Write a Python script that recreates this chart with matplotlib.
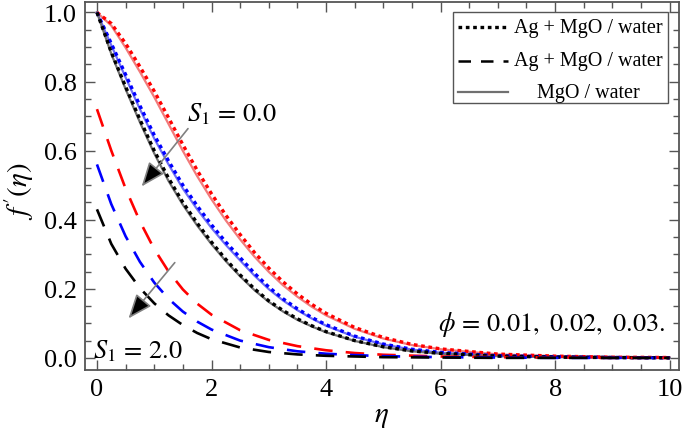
import matplotlib
matplotlib.use("Agg")
import matplotlib.pyplot as plt
from matplotlib.lines import Line2D
from matplotlib.patches import Rectangle

plt.rcParams["font.family"] = ["Liberation Serif", "DejaVu Serif"]
plt.rcParams["mathtext.fontset"] = "stix"

# S1 = 0.0 curves (Ag + MgO / water dotted, MgO / water solid)
eta = [0, 0.25, 0.5, 0.75, 1.0, 1.25, 1.5, 1.75, 2.0, 2.25, 2.5, 2.75, 3.0,
       3.25, 3.5, 3.75, 4.0, 4.5, 5.0, 5.5, 6.0, 7.0, 8.0, 9.0, 10.0]
hyb_red = [1.0, 0.968, 0.91, 0.843, 0.772, 0.695, 0.617, 0.543, 0.475, 0.413,
           0.357, 0.305, 0.26, 0.22, 0.185, 0.155, 0.129, 0.088, 0.059, 0.039,
           0.026, 0.011, 0.005, 0.002, 0.001]
hyb_blue = [1.0, 0.91, 0.82, 0.73, 0.645, 0.57, 0.50, 0.44, 0.385, 0.335,
            0.29, 0.245, 0.205, 0.171, 0.142, 0.117, 0.096, 0.063, 0.04,
            0.025, 0.016, 0.006, 0.003, 0.001, 0.0]
hyb_black = [1.0, 0.885, 0.785, 0.69, 0.60, 0.52, 0.45, 0.39, 0.335, 0.285,
             0.24, 0.20, 0.165, 0.137, 0.113, 0.093, 0.076, 0.05, 0.032, 0.02,
             0.013, 0.005, 0.002, 0.001, 0.0]
mono_red = [1.0, 0.962, 0.898, 0.828, 0.755, 0.677, 0.599, 0.526, 0.459,
            0.398, 0.343, 0.293, 0.249, 0.21, 0.177, 0.148, 0.123, 0.084,
            0.056, 0.037, 0.025, 0.010, 0.005, 0.002, 0.001]
mono_blue = [1.0, 0.905, 0.812, 0.72, 0.635, 0.56, 0.49, 0.43, 0.376, 0.327,
             0.282, 0.238, 0.199, 0.166, 0.138, 0.114, 0.093, 0.061, 0.039,
             0.024, 0.015, 0.006, 0.003, 0.001, 0.0]
mono_black = [1.0, 0.88, 0.778, 0.682, 0.592, 0.512, 0.443, 0.383, 0.329,
              0.28, 0.236, 0.196, 0.162, 0.134, 0.11, 0.091, 0.074, 0.049,
              0.031, 0.019, 0.012, 0.005, 0.002, 0.001, 0.0]

# S1 = 2.0 curves (dashed)
eta_s2 = [0, 0.25, 0.5, 0.75, 1.0, 1.25, 1.5, 1.75, 2.0, 2.5, 3.0, 3.5, 4.0,
          4.5, 5.0, 6.0, 7.0, 8.0, 9.0, 10.0]
s2_red = [0.72, 0.60, 0.49, 0.395, 0.315, 0.25, 0.198, 0.157, 0.125, 0.08,
          0.052, 0.034, 0.022, 0.014, 0.009, 0.004, 0.002, 0.001, 0.0, 0.0]
s2_blue = [0.56, 0.445, 0.352, 0.278, 0.218, 0.171, 0.134, 0.105, 0.082, 0.05,
           0.031, 0.019, 0.012, 0.008, 0.005, 0.002, 0.001, 0.0, 0.0, 0.0]
s2_black = [0.43, 0.33, 0.258, 0.202, 0.158, 0.123, 0.095, 0.072, 0.054, 0.03,
            0.017, 0.01, 0.006, 0.004, 0.002, 0.001, 0.0, 0.0, 0.0, 0.0]

legend_labels = ["Ag + MgO / water", "Ag + MgO / water", "MgO / water"]

fig = plt.figure(figsize=(6.85, 4.39), dpi=100)
ax = fig.add_axes([0.124, 0.155, 0.867, 0.838])

dot = (1.1, 1.1)
dash = (7, 5)
# solid MgO/water curves under the dotted ones
ax.plot(eta, mono_red, color="#f27a7a", lw=1.6)
ax.plot(eta, mono_blue, color="#6f6ff5", lw=1.6)
ax.plot(eta, mono_black, color="#707070", lw=1.6)
ax.plot(eta, hyb_red, color="red", lw=2.4, dashes=dot)
ax.plot(eta, hyb_blue, color="blue", lw=2.4, dashes=dot)
ax.plot(eta, hyb_black, color="black", lw=2.4, dashes=dot)
ax.plot(eta_s2, s2_red, color="red", lw=1.9, dashes=dash)
ax.plot(eta_s2, s2_blue, color="blue", lw=1.9, dashes=dash)
ax.plot(eta_s2, s2_black, color="black", lw=1.9, dashes=dash)

ax.set_xlim(-0.21, 10.16)
ax.set_ylim(-0.035, 1.03)
ax.set_xticks([0, 2, 4, 6, 8, 10])
ax.set_xticks([i * 0.5 for i in range(21)], minor=True)
ax.set_yticks([0.0, 0.2, 0.4, 0.6, 0.8, 1.0])
ax.set_yticks([i * 0.05 for i in range(21)], minor=True)
ax.set_xticklabels(["0", "2", "4", "6", "8", "10"])
ax.set_yticklabels(["0.0", "0.2", "0.4", "0.6", "0.8", "1.0"])
ax.tick_params(which="both", direction="in", top=True, right=True,
               color="#555555", labelsize=19, width=1.0)
ax.tick_params(which="major", length=7, pad=6)
ax.tick_params(which="minor", length=4)
for s in ax.spines.values():
    s.set_color("#555555")
    s.set_linewidth(1.3)

ax.set_xlabel(r"$\eta$", fontsize=21, labelpad=2)
fig.text(0.028, 0.565, r"$f\,'(\eta)$", fontsize=21, rotation=90,
         ha="center", va="center")

ax.text(1.57, 0.707, r"$S_1\,=\,0.0$", fontsize=19, va="center")
ax.text(-0.07, 0.022, r"$S_1\,=\,2.0$", fontsize=19, va="center")
ax.text(5.95, 0.10, r"$\phi\,=\,0.01,\ 0.02,\ 0.03.$", fontsize=19,
        va="center")

arrow = dict(arrowstyle="-|>,head_length=1.0,head_width=0.4",
             ec="#808080", fc="black", lw=1.2, mutation_scale=15)
ax.annotate("", xy=(0.75, 0.49), xytext=(1.62, 0.67), arrowprops=arrow)
ax.annotate("", xy=(0.52, 0.108), xytext=(1.39, 0.282), arrowprops=arrow)

# legend box drawn by hand so labels can be centred
tr = ax.transAxes
ax.add_patch(Rectangle((0.62, 0.726), 0.361, 0.247, transform=tr,
                       fill=True, fc="white", ec="#555555", lw=1.0, zorder=5))
rows = [0.932, 0.840, 0.755]
styles = [dict(color="black", lw=2.4, dashes=dot),
          dict(color="black", lw=1.8, dashes=(5, 4)),
          dict(color="#707070", lw=1.6)]
for y, st, lab in zip(rows, styles, legend_labels):
    ax.add_line(Line2D([0.628, 0.712], [y, y], transform=tr, zorder=6, **st))
    ax.text(0.848, y, lab, transform=tr, fontsize=14.5, ha="center",
            va="center", zorder=6)

fig.savefig("out.png", dpi=100)
